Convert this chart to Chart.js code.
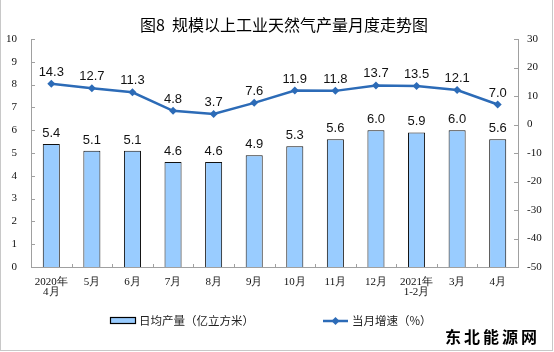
<!DOCTYPE html>
<html>
<head>
<meta charset="utf-8">
<script src="https://cdn.jsdelivr.net/npm/chart.js@4/dist/chart.umd.min.js"></script>
<style>
  body { margin: 0; background: #fff; }
  #wrap { width: 554px; height: 352px; }
</style>
</head>
<body>
<div id="wrap"><canvas id="gasChart" width="554" height="352"></canvas></div>
<script>
// Monthly data
const months = [
  ["2020年", "4月"], "5月", "6月", "7月", "8月", "9月",
  "10月", "11月", "12月", ["2021年", "1-2月"], "3月", "4月"
];
const dailyOutput = [5.4, 5.1, 5.1, 4.6, 4.6, 4.9, 5.3, 5.6, 6.0, 5.9, 6.0, 5.6];
const monthlyGrowth = [14.3, 12.7, 11.3, 4.8, 3.7, 7.6, 11.9, 11.8, 13.7, 13.5, 12.1, 7.0];

const titleText = "图8  规模以上工业天然气产量月度走势图";
const barLabel = "日均产量（亿立方米）";
const lineLabel = "当月增速（%）";
const sourceText = "东北能源网";

const barColor = "#99CCFF";
const lineColor = "#2C6BB7";
const axisColor = "#A0A0A0";
const serif = '"Liberation Serif", "DejaVu Serif", serif';
const sans = '"Liberation Sans", "Noto Sans CJK SC", sans-serif';
const cjk = '"Noto Sans CJK SC", sans-serif';

// short tick marks pointing into the plot, value labels, title, legend
const decorations = {
  id: "decorations",
  afterDatasetsDraw(chart) {
    const ctx = chart.ctx;
    ctx.save();
    ctx.fillStyle = "#111";
    ctx.font = "13px " + sans;
    ctx.textAlign = "center";
    ctx.textBaseline = "alphabetic";
    chart.getDatasetMeta(0).data.forEach((el, i) => {
      ctx.fillText(dailyOutput[i].toFixed(1), el.x, el.y - 7);
    });
    chart.getDatasetMeta(1).data.forEach((el, i) => {
      ctx.fillText(monthlyGrowth[i].toFixed(1), el.x, el.y - 8);
    });
    ctx.restore();
  },
  afterDraw(chart) {
    const ctx = chart.ctx;
    const area = chart.chartArea;
    const sx = chart.scales.x, sy = chart.scales.y, sy1 = chart.scales.y1;
    ctx.save();
    ctx.strokeStyle = axisColor;
    ctx.lineWidth = 1;
    ctx.beginPath();
    sy.ticks.forEach((t, i) => {
      const y = Math.round(sy.getPixelForTick(i)) + 0.5;
      ctx.moveTo(area.left, y);
      ctx.lineTo(area.left + 4, y);
    });
    sy1.ticks.forEach((t, i) => {
      const y = Math.round(sy1.getPixelForTick(i)) + 0.5;
      ctx.moveTo(area.right - 4, y);
      ctx.lineTo(area.right, y);
    });
    for (let i = 1; i < months.length; i++) {
      const x = Math.round((sx.getPixelForTick(i - 1) + sx.getPixelForTick(i)) / 2) + 0.5;
      ctx.moveTo(x, area.bottom);
      ctx.lineTo(x, area.bottom - 3);
    }
    ctx.stroke();

    // title
    ctx.fillStyle = "#000";
    ctx.font = "16px " + cjk;
    ctx.textAlign = "center";
    ctx.textBaseline = "middle";
    ctx.fillText(titleText, 284, 25);

    // legend
    ctx.textAlign = "left";
    ctx.font = "11.5px " + cjk;
    ctx.fillStyle = barColor;
    ctx.fillRect(110.5, 317.5, 25, 6);
    ctx.strokeStyle = "#000";
    ctx.lineWidth = 1.2;
    ctx.strokeRect(110.5, 317.5, 25, 6);
    ctx.fillStyle = "#222";
    ctx.fillText(barLabel, 139, 321);

    ctx.strokeStyle = lineColor;
    ctx.lineWidth = 2.5;
    ctx.beginPath();
    ctx.moveTo(323, 321);
    ctx.lineTo(348, 321);
    ctx.stroke();
    ctx.fillStyle = lineColor;
    ctx.beginPath();
    ctx.moveTo(335.5, 317);
    ctx.lineTo(339.5, 321);
    ctx.lineTo(335.5, 325);
    ctx.lineTo(331.5, 321);
    ctx.closePath();
    ctx.fill();
    ctx.fillStyle = "#222";
    ctx.fillText(lineLabel, 352, 321);

    // source mark
    ctx.fillStyle = "#000";
    ctx.font = "bold 16px " + cjk;
    ctx.letterSpacing = "3px";
    ctx.fillText(sourceText, 445, 337);
    ctx.letterSpacing = "0px";

    // outer frame
    ctx.strokeStyle = "#C8C8C8";
    ctx.lineWidth = 1;
    ctx.strokeRect(0.5, -1, 552, 351.5);
    ctx.restore();
  }
};

new Chart(document.getElementById("gasChart"), {
  data: {
    labels: months,
    datasets: [
      {
        type: "bar",
        label: barLabel,
        data: dailyOutput,
        yAxisID: "y",
        backgroundColor: barColor,
        borderColor: "#111",
        borderWidth: 1,
        categoryPercentage: 1,
        barPercentage: 0.42,
        order: 1,
      },
      {
        type: "line",
        label: lineLabel,
        data: monthlyGrowth,
        yAxisID: "y1",
        borderColor: lineColor,
        borderWidth: 2.5,
        pointStyle: "rectRot",
        pointRadius: 4,
        pointBackgroundColor: lineColor,
        pointBorderColor: lineColor,
        pointBorderWidth: 0,
        tension: 0,
        order: 0,
      },
    ],
  },
  options: {
    responsive: false,
    animation: false,
    devicePixelRatio: 1,
    layout: { padding: { top: 39, bottom: 45, left: 0, right: 0 } },
    plugins: {
      legend: { display: false },
      title: { display: false },
      tooltip: { enabled: false },
    },
    scales: {
      x: {
        offset: true,
        grid: { display: false, drawTicks: false },
        border: { display: true, color: axisColor },
        ticks: {
          color: "#111",
          font: { family: serif, size: 11, lineHeight: 0.92 },
          padding: 10,
          maxRotation: 0,
          autoSkip: false,
        },
        afterFit(s) { s.height = 40; },
      },
      y: {
        position: "left",
        min: 0,
        max: 10,
        grid: { display: false, drawTicks: false },
        border: { display: true, color: axisColor },
        ticks: {
          stepSize: 1,
          color: "#111",
          font: { family: serif, size: 11 },
          padding: 14,
        },
        afterFit(s) { s.width = 31; },
      },
      y1: {
        position: "right",
        min: -50,
        max: 30,
        grid: { display: false, drawTicks: false },
        border: { display: true, color: axisColor },
        ticks: {
          stepSize: 10,
          color: "#111",
          font: { family: serif, size: 11 },
          padding: 9,
        },
        afterFit(s) { s.width = 36; },
      },
    },
  },
  plugins: [decorations],
});
</script>
</body>
</html>
